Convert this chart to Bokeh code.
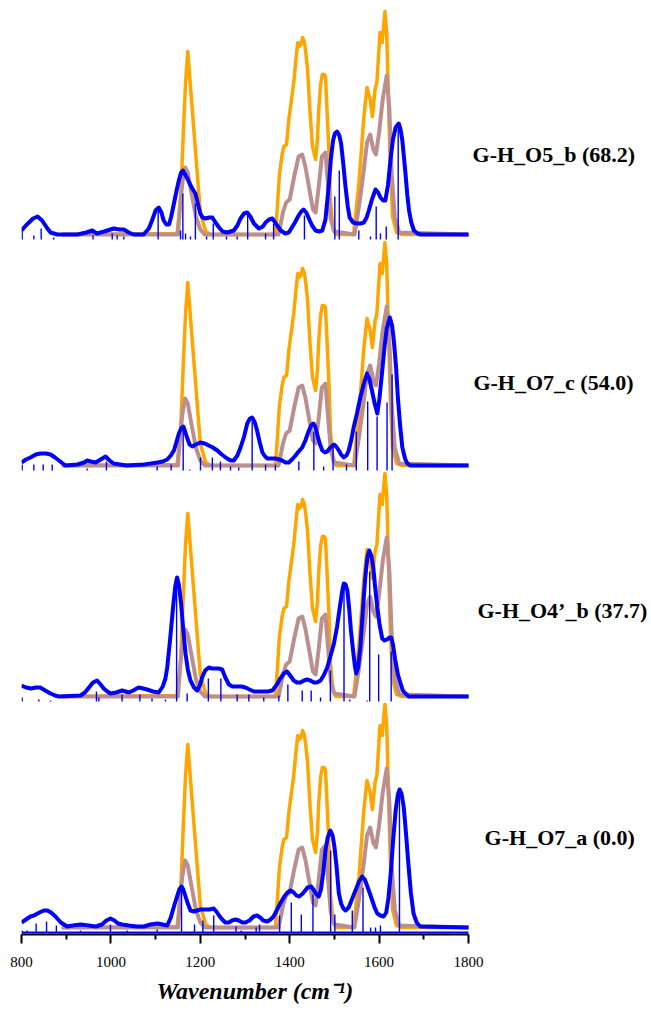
from bokeh.plotting import figure
from bokeh.models import Range1d, FixedTicker, Title
from bokeh.core.properties import value
from bokeh.embed import file_html
from bokeh.resources import INLINE

# ---------------- data ----------------
labels = ["G-H_O5_b (68.2)", "G-H_O7_c (54.0)", "G-H_O4\u2019_b (37.7)", "G-H_O7_a (0.0)"]
offsets = [700, 469, 238, 7]          # vertical offset of each stacked spectrum

# reference spectrum (orange), same in every panel
orange_x = [890, 1148, 1156, 1162, 1167, 1172, 1175, 1178, 1185, 1193, 1200, 1212, 1223,
            1368, 1372, 1377, 1383, 1387, 1393, 1398, 1404, 1409, 1415, 1418, 1421, 1425, 1429,
            1433, 1436, 1440, 1445, 1451, 1458, 1462, 1465, 1469, 1473, 1477, 1480, 1484, 1488,
            1491, 1497, 1503, 1543, 1555, 1566, 1573, 1580, 1585, 1591, 1595, 1602, 1607, 1613,
            1617, 1621, 1625, 1630, 1639, 1650, 1800]
orange_y = [0, 1, 35, 102, 152, 183, 165, 148, 108, 62, 22, 3, 0,
            0, 25, 60, 80, 88, 90, 115, 135, 152, 180, 192, 188, 190, 197,
            192, 182, 165, 125, 88, 75, 95, 125, 150, 160, 160, 158, 120, 80,
            35, 5, 0, 0, 52, 118, 147, 135, 118, 145, 152, 202, 192, 223,
            202, 135, 68, 18, 2, 0, 0]

# second reference spectrum (rosy brown), same in every panel
mauve_x = [890, 1150, 1155, 1160, 1166, 1172, 1180, 1190, 1200, 1210,
           1375, 1385, 1392, 1400, 1410, 1420, 1428, 1435, 1443, 1452, 1458, 1465, 1472, 1480,
           1486, 1492, 1500, 1545, 1555, 1565, 1573, 1580, 1587, 1593, 1600, 1608, 1617, 1623,
           1628, 1635, 1645, 1800]
mauve_y = [0, 0, 30, 52, 67, 62, 42, 18, 5, 0,
           0, 22, 32, 35, 58, 78, 80, 68, 48, 25, 22, 48, 78, 82,
           48, 15, 3, 0, 28, 62, 92, 100, 85, 80, 102, 135, 159, 125,
           62, 18, 2, 0]

# computed spectra (blue), one per panel
blue_x = [
    [800, 812, 826, 836, 846, 858, 865, 880, 902, 925, 945, 958, 969, 985, 1006, 1020, 1029, 1040,
     1051, 1073, 1085, 1092, 1100, 1107, 1113, 1118, 1124, 1130, 1135, 1141, 1147, 1152, 1157, 1161,
     1166, 1171, 1176, 1182, 1189, 1195, 1200, 1205, 1212, 1220, 1227, 1234, 1242, 1250, 1260, 1275,
     1283, 1290, 1298, 1305, 1312, 1320, 1331, 1340, 1346, 1354, 1361, 1366, 1372, 1380, 1390, 1398,
     1405, 1413, 1420, 1426, 1431, 1437, 1443, 1450, 1458, 1466, 1473, 1480, 1487, 1492, 1497, 1501,
     1506, 1511, 1515, 1520, 1525, 1530, 1534, 1542, 1551, 1558, 1566, 1572, 1577, 1584, 1592, 1598,
     1603, 1609, 1614, 1620, 1626, 1631, 1637, 1644, 1648, 1652, 1655, 1659, 1663, 1667, 1672, 1678,
     1686, 1693, 1800],
    [800, 810, 820, 832, 842, 855, 865, 875, 884, 898, 925, 940, 947, 955, 966, 977, 988, 997, 1006,
     1020, 1036, 1074, 1090, 1104, 1116, 1126, 1134, 1141, 1147, 1152, 1157, 1162, 1166, 1171, 1176,
     1182, 1190, 1200, 1210, 1219, 1228, 1238, 1248, 1260, 1268, 1275, 1283, 1290, 1298, 1305, 1311,
     1316, 1322, 1327, 1333, 1339, 1345, 1350, 1360, 1368, 1376, 1383, 1391, 1398, 1405, 1413, 1420,
     1428, 1435, 1443, 1448, 1453, 1457, 1461, 1467, 1473, 1479, 1484, 1491, 1499, 1504, 1510, 1515,
     1521, 1527, 1532, 1538, 1543, 1551, 1558, 1566, 1573, 1578, 1584, 1590, 1596, 1601, 1607, 1612,
     1617, 1624, 1629, 1633, 1638, 1642, 1647, 1652, 1658, 1663, 1670, 1800],
    [800, 810, 821, 832, 842, 853, 865, 875, 884, 932, 942, 951, 960, 969, 977, 984, 992, 999, 1012,
     1025, 1033, 1040, 1050, 1062, 1072, 1081, 1094, 1107, 1116, 1122, 1126, 1132, 1139, 1144, 1148,
     1152, 1157, 1162, 1167, 1172, 1178, 1186, 1193, 1199, 1204, 1211, 1219, 1226, 1234, 1241, 1249,
     1256, 1264, 1272, 1283, 1292, 1301, 1310, 1320, 1331, 1342, 1351, 1361, 1370, 1379, 1387, 1394,
     1401, 1409, 1416, 1424, 1432, 1439, 1446, 1454, 1461, 1469, 1476, 1484, 1491, 1499, 1506, 1512,
     1517, 1521, 1525, 1529, 1533, 1537, 1542, 1546, 1549, 1553, 1558, 1563, 1569, 1574, 1578, 1583,
     1587, 1591, 1596, 1601, 1607, 1612, 1618, 1623, 1627, 1631, 1636, 1642, 1648, 1653, 1659, 1666,
     1800],
    [800, 810, 820, 828, 840, 850, 858, 866, 876, 888, 902, 915, 932, 950, 966, 980, 990, 999, 1008,
     1016, 1025, 1040, 1058, 1074, 1088, 1104, 1116, 1126, 1134, 1141, 1148, 1153, 1158, 1162, 1167,
     1172, 1178, 1186, 1193, 1200, 1210, 1220, 1230, 1236, 1242, 1249, 1256, 1264, 1271, 1279, 1286,
     1294, 1301, 1310, 1319, 1327, 1334, 1341, 1350, 1357, 1364, 1372, 1380, 1388, 1395, 1402, 1409,
     1415, 1421, 1427, 1433, 1440, 1448, 1453, 1458, 1465, 1470, 1475, 1480, 1485, 1491, 1496, 1500,
     1505, 1510, 1515, 1520, 1525, 1532, 1540, 1548, 1555, 1562, 1568, 1573, 1577, 1584, 1590, 1596,
     1603, 1610, 1616, 1621, 1626, 1631, 1637, 1642, 1646, 1650, 1655, 1660, 1666, 1671, 1677, 1684,
     1692, 1800],
]
blue_y = [
    [4, 10, 16, 18, 14, 6, 2, 0, 0, 0, 2, 4, 1, 3, 6, 5, 5, 2,
     0, 0, 6, 14, 24, 27, 22, 14, 10, 10, 18, 31, 44, 54, 62, 64,
     60, 56, 51, 46, 41, 30, 21, 17, 16, 17, 17, 12, 7, 3, 2, 4,
     9, 16, 21, 22, 18, 11, 6, 8, 12, 15, 16, 13, 9, 4, 1, 2,
     7, 13, 19, 23, 25, 22, 16, 9, 4, 3, 4, 15, 47, 75, 94, 101,
     103, 99, 91, 70, 47, 28, 17, 12, 11, 11, 12, 17, 24, 35, 45, 42,
     37, 34, 34, 50, 77, 95, 107, 111, 105, 94, 80, 61, 40, 24, 12, 4,
     1, 0, 0],
    [3, 6, 8, 11, 12, 12, 11, 8, 5, 0, 1, 3, 5, 4, 3, 6, 9, 5, 2,
     1, 0, 1, 2, 3, 4, 6, 10, 15, 24, 32, 37, 39, 34, 27, 21,
     19, 21, 23, 22, 20, 18, 15, 11, 7, 5, 5, 10, 18, 29, 42, 47,
     48, 43, 35, 23, 13, 9, 7, 7, 7, 6, 5, 3, 3, 6, 10, 14,
     18, 25, 35, 40, 42, 39, 32, 22, 15, 13, 14, 18, 21, 19, 15, 11,
     8, 10, 15, 26, 38, 53, 68, 82, 92, 87, 75, 62, 52, 68, 95, 118,
     137, 148, 140, 125, 98, 68, 40, 18, 7, 2, 0, 0],
    [11, 9, 8, 9, 9, 6, 3, 1, 0, 1, 4, 9, 14, 16, 12, 8, 5, 3, 4,
     6, 5, 4, 6, 9, 8, 7, 5, 4, 10, 18, 29, 55, 89, 110, 119,
     112, 93, 66, 43, 27, 16, 9, 6, 11, 19, 26, 29, 28, 28, 28, 27,
     19, 12, 10, 10, 10, 9, 7, 5, 5, 5, 5, 6, 11, 18, 23, 25,
     21, 16, 14, 14, 16, 17, 16, 14, 14, 16, 21, 29, 40, 53, 70, 89,
     104, 113, 112, 106, 88, 66, 45, 30, 23, 29, 49, 82, 119, 140, 146, 140,
     129, 110, 89, 72, 58, 56, 57, 59, 59, 52, 37, 22, 13, 6, 3, 0,
     0],
    [5, 8, 11, 12, 15, 17, 17, 15, 11, 5, 1, 2, 3, 2, 1, 3, 7, 9, 7,
     4, 3, 2, 1, 1, 3, 4, 3, 2, 10, 21, 31, 38, 41, 38, 31,
     24, 17, 16, 17, 18, 18, 18, 19, 16, 12, 8, 5, 5, 7, 8, 7,
     5, 5, 7, 11, 12, 10, 7, 6, 8, 11, 18, 25, 31, 35, 37, 35,
     32, 31, 33, 36, 40, 41, 38, 34, 31, 38, 55, 77, 90, 97, 92, 81,
     60, 34, 24, 19, 17, 20, 29, 38, 46, 51, 48, 42, 37, 28, 20, 14,
     12, 11, 15, 30, 54, 85, 117, 133, 138, 134, 121, 95, 61, 35, 14, 5,
     1, 0],
]

# stick spectra (blue), one per panel
stick_x = [
    [801.5, 827.6, 844, 872, 960, 1003, 1014, 1029, 1105.7, 1155.7, 1161, 1167, 1178, 1189, 1214,
     1229, 1258.6, 1282.5, 1306, 1346, 1364, 1433, 1501, 1511, 1554.6, 1580.7, 1593.5, 1603, 1616,
     1642.7],
    [801.5, 827.6, 848.5, 868.6, 946.9, 990, 1103.5, 1134.8, 1161.7, 1176.6, 1200.4, 1227, 1245,
     1267.6, 1286, 1316, 1346, 1368, 1420.4, 1454, 1476, 1497, 1527, 1549, 1574.5, 1595.5, 1617.8,
     1629],
    [801.5, 838.8, 865, 967.7, 973, 1025, 1064.8, 1092, 1122, 1147, 1170.6, 1218, 1246, 1282.5,
     1308.6, 1342, 1375.7, 1395.9, 1428, 1448, 1469, 1491, 1521.5, 1534.5, 1573.3, 1579, 1599,
     1627],
    [801.5, 812.7, 832.8, 856, 878, 932, 999, 1036.5, 1103.5, 1158, 1187, 1205.7, 1230, 1280,
     1291.5, 1325, 1332.5, 1377.5, 1403.6, 1426, 1452, 1491.6, 1501, 1540, 1564, 1581, 1592, 1603,
     1645.6],
]
stick_h = [
    [9, 4, 11, 2, 4, 6, 4, 3, 33, 9, 46, 6, 3, 36, 3,
     16, 3, 3, 26, 6, 16, 24, 43, 69, 9, 3, 33, 6, 13,
     116],
    [6, 6, 6, 6, 2, 9, 4, 6, 43, 1, 13, 13, 9,
     4, 3, 49, 6, 6, 9, 39, 4, 26, 6, 39, 69, 54, 68,
     96],
    [4, 2, 1, 10, 4, 7, 7, 3, 2, 116, 8, 23, 23, 7,
     7, 4, 6, 17, 11, 11, 4, 31, 117, 2, 1, 130, 47,
     50],
    [2, 2, 9, 11, 7, 2, 8, 2, 3, 45, 8, 12, 17, 6,
     2, 5, 8, 17, 30, 18, 38, 82, 18, 22, 45, 5, 5, 7,
     142],
]

major_ticks = [800, 1000, 1200, 1400, 1600, 1800]
minor_ticks = [900, 1100, 1300, 1500, 1700]
x_title = "Wavenumber (cm\u207b\u00b9)"

# ---------------- styles / layout ----------------
ORANGE = "#FFA500"
MAUVE = "#BC8F8F"
BLUE = "#0000FF"
STICK_DROP = 5
SERIF = "Liberation Serif"
PX_PER_UNIT = 0.447          # screen pixels per cm-1
LEFT = 21
FRAME_W = 629
x_end = major_ticks[0] + FRAME_W / PX_PER_UNIT

p = figure(frame_width=FRAME_W, frame_height=926, x_range=Range1d(major_ticks[0], x_end),
           y_range=Range1d(0, 926),
           output_backend="svg", toolbar_location=None, y_axis_location=None,
           min_border_left=LEFT, min_border_right=0, min_border_top=8, min_border_bottom=0,
           background_fill_color="white", border_fill_color="white")
p.outline_line_color = None
p.grid.visible = False

for i, off in enumerate(offsets):
    p.line(orange_x, [off + v for v in orange_y], line_color=ORANGE, line_width=3.5,
           line_join="round")
    p.line(mauve_x, [off + v for v in mauve_y], line_color=MAUVE, line_width=4,
           line_join="round")
for i, off in enumerate(offsets):
    base = off - STICK_DROP
    p.segment(x0=stick_x[i], y0=[base] * len(stick_x[i]), x1=stick_x[i],
              y1=[base + h for h in stick_h[i]], line_color=BLUE, line_width=1.4)
    p.line(blue_x[i], [off + v for v in blue_y[i]], line_color=BLUE, line_width=4,
           line_join="round")

# baseline of the lowest stick spectrum
p.line([major_ticks[0], major_ticks[-1]], [offsets[-1] - STICK_DROP] * 2, line_color=BLUE,
       line_width=2)

# conformer labels, to the right of the spectra
label_x = [1809, 1811, 1820, 1836]
label_y = [780, 552, 324, 97]
p.text(x=label_x, y=label_y, text=labels, text_font=value(SERIF), text_font_style="bold",
       text_font_size="22px", text_color="black", text_align="left", text_baseline="middle")

ax = p.xaxis[0]
ax.bounds = (major_ticks[0], major_ticks[-1])
ax.ticker = FixedTicker(ticks=major_ticks, minor_ticks=minor_ticks)
ax.axis_line_color = "black"
ax.axis_line_width = 2
ax.major_tick_line_color = "black"
ax.major_tick_line_width = 2
ax.major_tick_in = 0
ax.major_tick_out = 9
ax.minor_tick_line_color = "black"
ax.minor_tick_line_width = 2
ax.minor_tick_in = 0
ax.minor_tick_out = 5
ax.major_label_text_font = SERIF
ax.major_label_text_font_size = "15px"
ax.major_label_text_color = "black"
ax.major_label_standoff = 13

# axis title, placed under the tick labels and centred under the 800-1800 span
title = Title(text=x_title, align="left", offset=135, standoff=13,
              text_font=SERIF, text_font_style="bold italic", text_font_size="24px",
              text_color="black")
p.add_layout(title, "below")

open("out.html", "w").write(file_html(p, INLINE))
